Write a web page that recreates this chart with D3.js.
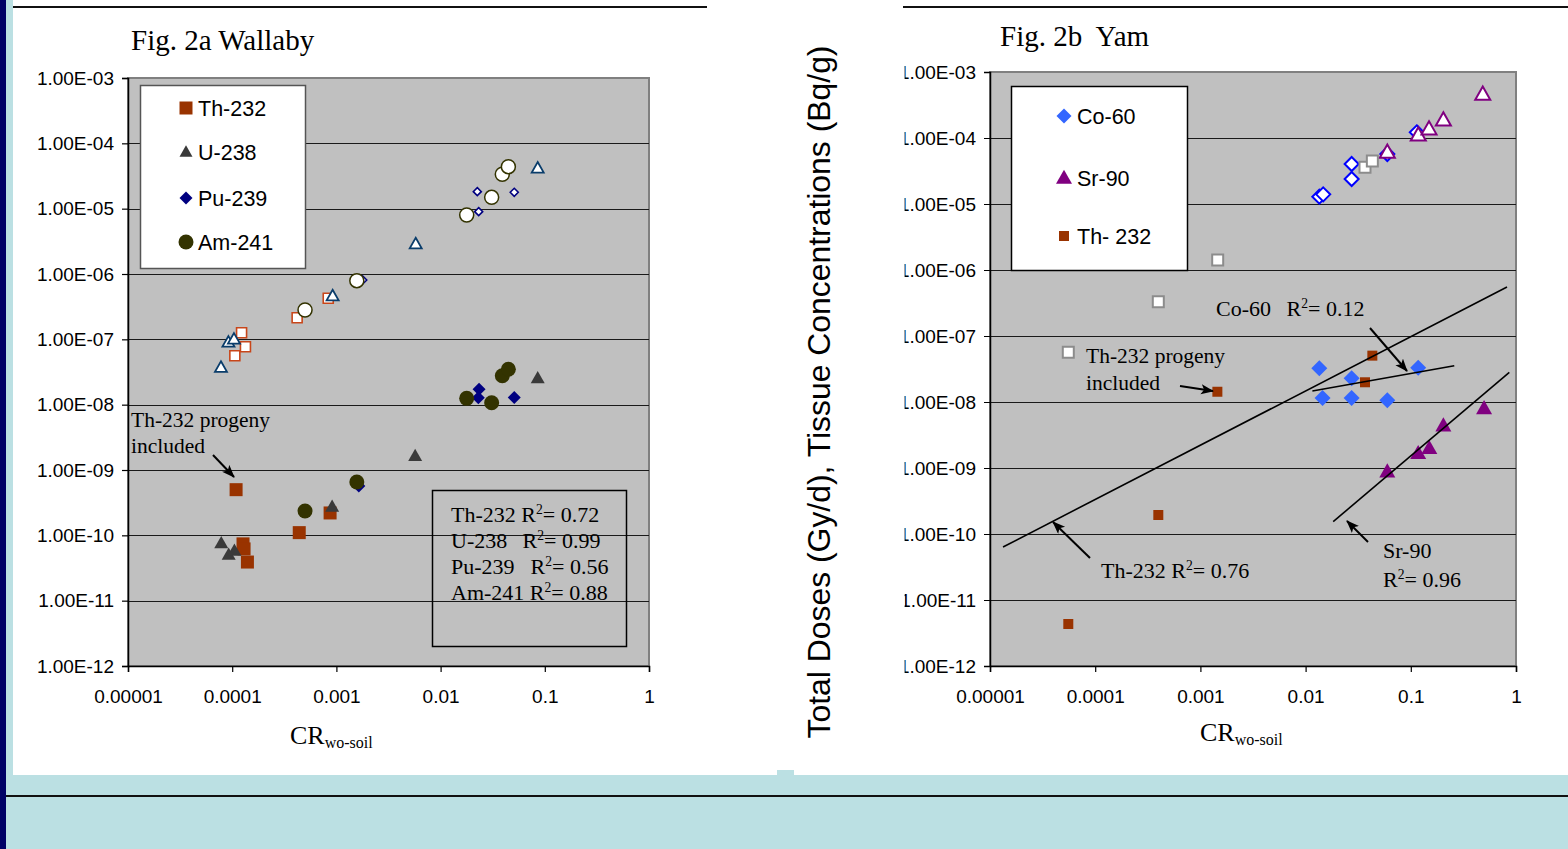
<!DOCTYPE html>
<html>
<head>
<meta charset="utf-8">
<script src="https://cdn.jsdelivr.net/npm/d3@7"></script>
<style>
  html, body { margin: 0; padding: 0; background: #bbe0e3; overflow: hidden; }
  svg { display: block; }
  .sans { font-family: "Liberation Sans", Arial, sans-serif; }
  .serif { font-family: "Liberation Serif", "Times New Roman", serif; }
</style>
</head>
<body>
<script>
// ---- axis ticks ----
var xTicks = [1e-5, 1e-4, 1e-3, 1e-2, 1e-1, 1];
var xTickLabels = ["0.00001", "0.0001", "0.001", "0.01", "0.1", "1"];
var yTicks = [1e-12, 1e-11, 1e-10, 1e-9, 1e-8, 1e-7, 1e-6, 1e-5, 1e-4, 1e-3];
var yTickLabels = ["1.00E-12", "1.00E-11", "1.00E-10", "1.00E-09", "1.00E-08",
                   "1.00E-07", "1.00E-06", "1.00E-05", "1.00E-04", "1.00E-03"];

// ---- Fig 2a wallaby: [CR, value] ----
var wallabyNames = ["Th-232", "U-238", "Pu-239", "Am-241"];
var wallabyTh232Tissue = [[1.23e-4, 1.26e-7], [1.34e-4, 7.7e-8], [1.06e-4, 5.6e-8], [4.2e-4, 2.14e-7], [8.35e-4, 4.25e-7]];
var wallabyU238Tissue = [[7.8e-5, 3.7e-8], [9.2e-5, 9.0e-8], [1.04e-4, 1.0e-7], [9.2e-4, 4.6e-7], [5.77e-3, 2.88e-6], [8.55e-2, 4.15e-5]];
var wallabyPu239Tissue = [[1.79e-3, 8.1e-7], [2.25e-2, 1.82e-5], [2.32e-2, 9.0e-6], [5.09e-2, 1.78e-5]];
var wallabyAm241Tissue = [[5.0e-4, 2.81e-7], [1.57e-3, 7.9e-7], [1.78e-2, 8.0e-6], [3.09e-2, 1.49e-5], [3.91e-2, 3.36e-5], [4.47e-2, 4.39e-5]];
var wallabyTh232Dose = [[1.09e-4, 5.0e-10], [1.27e-4, 7.4e-11], [1.30e-4, 6.2e-11], [1.40e-4, 3.9e-11], [4.4e-4, 1.1e-10], [8.7e-4, 2.2e-10]];
var wallabyU238Dose = [[7.85e-5, 7.55e-11], [9.25e-5, 5.05e-11], [1.05e-4, 5.8e-11], [9.1e-4, 2.74e-10], [5.7e-3, 1.64e-9], [8.55e-2, 2.53e-8]];
var wallabyPu239Dose = [[1.64e-3, 5.7e-10], [2.34e-2, 1.72e-8], [2.30e-2, 1.28e-8], [5.09e-2, 1.29e-8]];
var wallabyAm241Dose = [[5.0e-4, 2.36e-10], [1.57e-3, 6.55e-10], [1.78e-2, 1.25e-8], [3.09e-2, 1.07e-8], [3.91e-2, 2.77e-8], [4.47e-2, 3.48e-8]];
var wallabyR2Names = ["Th-232", "U-238", "Pu-239", "Am-241"];
var wallabyR2Values = ["0.72", "0.99", "0.56", "0.88"];

// ---- Fig 2b yam ----
var yamNames = ["Co-60", "Sr-90", "Th- 232"];
var yamCo60Tissue = [[1.35e-2, 1.29e-5], [1.47e-2, 1.40e-5], [2.74e-2, 2.39e-5], [2.74e-2, 4.04e-5], [5.98e-2, 5.73e-5], [1.14e-1, 1.22e-4]];
var yamSr90Tissue = [[5.98e-2, 6.07e-5], [1.178e-1, 1.11e-4], [1.49e-1, 1.37e-4], [2.04e-1, 1.87e-4], [4.83e-1, 4.59e-4]];
var yamTh232Tissue = [[5.55e-5, 5.66e-8], [3.98e-4, 3.31e-7], [1.46e-3, 1.42e-6], [3.67e-2, 3.6e-5], [4.31e-2, 4.49e-5]];
var yamCo60Dose = [[1.35e-2, 3.25e-8], [1.45e-2, 1.15e-8], [2.74e-2, 2.29e-8], [2.74e-2, 1.15e-8], [5.98e-2, 1.06e-8], [1.175e-1, 3.31e-8]];
var yamSr90Dose = [[5.98e-2, 8.8e-10], [1.175e-1, 1.67e-9], [1.50e-1, 1.99e-9], [2.04e-1, 4.38e-9], [4.97e-1, 8.0e-9]];
var yamTh232Dose = [[5.55e-5, 4.33e-12], [3.98e-4, 1.94e-10], [1.45e-3, 1.43e-8], [3.67e-2, 1.99e-8], [4.31e-2, 5.04e-8]];
// trend lines: [start, end] in data units
var yamTh232Trend = [[1.33e-5, 6.35e-11], [0.821, 5.52e-7]];
var yamCo60Trend = [[1.16e-2, 1.47e-8], [0.259, 3.55e-8]];
var yamSr90Trend = [[1.83e-2, 1.54e-10], [0.864, 2.82e-8]];

var W = 1568, H = 849;
var svg = d3.select("body").append("svg").attr("width", W).attr("height", H);

// ---- slide background ----
svg.append("rect").attr("x", 13).attr("y", 0).attr("width", W - 13).attr("height", 775).attr("fill", "#fff");
svg.append("rect").attr("x", 777).attr("y", 770).attr("width", 17).attr("height", 5).attr("fill", "#bbe0e3");
svg.append("rect").attr("x", 0).attr("y", 0).attr("width", 6).attr("height", H).attr("fill", "#000066");
svg.append("line").attr("x1", 13).attr("x2", 707).attr("y1", 7).attr("y2", 7).attr("stroke", "#111").attr("stroke-width", 2);
svg.append("line").attr("x1", 903).attr("x2", W).attr("y1", 7).attr("y2", 7).attr("stroke", "#111").attr("stroke-width", 2);
svg.append("line").attr("x1", 6).attr("x2", W).attr("y1", 796).attr("y2", 796).attr("stroke", "#111").attr("stroke-width", 2);

var defs = svg.append("defs");
defs.append("marker").attr("id", "arrow")
    .attr("markerUnits", "userSpaceOnUse")
    .attr("markerWidth", 14).attr("markerHeight", 12)
    .attr("refX", 12).attr("refY", 5)
    .attr("orient", "auto")
  .append("path").attr("d", "M0,0L13,5L0,10L3,5z").attr("fill", "#000");
// clip in the right y axis' own (translated) space: cuts the labels near x=905
defs.append("clipPath").attr("id", "rightClip")
  .append("rect").attr("x", 904.6 - 990).attr("y", 0).attr("width", 200).attr("height", H);

function markerPath(shape, s) {
  var h = s / 2;
  if (shape === "square") return "M" + (-h) + "," + (-h) + "h" + s + "v" + s + "h" + (-s) + "z";
  if (shape === "diamond") return "M0," + (-h) + "L" + h + ",0L0," + h + "L" + (-h) + ",0z";
  if (shape === "triangle") return "M0," + (-s * 0.52) + "L" + h + "," + (s * 0.36) + "L" + (-h) + "," + (s * 0.36) + "z";
  return d3.symbol(d3.symbolCircle, Math.PI * h * h)();
}

function chart(left, right, top, bottom, clip) {
  var x = d3.scaleLog().domain([1e-5, 1]).range([left, right]);
  var y = d3.scaleLog().domain([1e-12, 1e-3]).range([bottom, top]);
  var g = svg.append("g");

  g.append("rect")
      .attr("x", left).attr("y", top)
      .attr("width", right - left).attr("height", bottom - top)
      .attr("fill", "#c0c0c0").attr("stroke", "#808080").attr("stroke-width", 2);

  g.selectAll(null).data(yTicks.slice(1, -1)).join("line")
      .attr("x1", left).attr("x2", right)
      .attr("y1", function (d) { return Math.round(y(d)) + 0.5; })
      .attr("y2", function (d) { return Math.round(y(d)) + 0.5; })
      .attr("stroke", "#1a1a1a").attr("stroke-width", 1.2);

  var ya = g.append("g")
      .attr("transform", "translate(" + left + ",0)")
      .call(d3.axisLeft(y).tickValues(yTicks).tickSizeOuter(0).tickSize(6).tickPadding(8)
        .tickFormat(function (d, i) { return yTickLabels[i]; }));
  if (clip) ya.attr("clip-path", "url(#rightClip)");

  var xa = g.append("g")
      .attr("transform", "translate(0," + bottom + ")")
      .call(d3.axisBottom(x).tickValues(xTicks).tickSizeOuter(0).tickSize(6)
        .tickFormat(function (d, i) { return xTickLabels[i]; }));
  xa.selectAll("text").attr("y", 37).attr("dy", 0);

  [ya, xa].forEach(function (a) {
    a.attr("font-family", "Liberation Sans, Arial, sans-serif").attr("font-size", 19);
    a.selectAll("text").attr("fill", "#000");
    a.selectAll("line").attr("stroke", "#000").attr("stroke-width", 1.2);
    a.select(".domain").attr("stroke", "#000").attr("stroke-width", 1.5);
  });
  return { x: x, y: y, g: g };
}

function drawSeries(c, s) {
  c.g.append("g").selectAll("path").data(s.data).join("path")
      .attr("d", markerPath(s.shape, s.size))
      .attr("transform", function (d) { return "translate(" + c.x(d[0]) + "," + c.y(d[1]) + ")"; })
      .attr("fill", s.fill)
      .attr("stroke", s.stroke || "none")
      .attr("stroke-width", s.sw || 0);
}

function label(x, y, parts, size) {
  var t = svg.append("text").attr("class", "serif").attr("x", x).attr("y", y)
      .attr("font-size", size).attr("fill", "#000").style("white-space", "pre");
  parts.forEach(function (p) {
    var ts = t.append("tspan").text(p.t);
    if (p.x != null) ts.attr("x", p.x);
    if (p.sup) ts.attr("font-size", size * 0.62).attr("dy", -size * 0.38);
    if (p.after) ts.attr("dy", size * 0.38);
  });
  return t;
}

function arrow(x1, y1, x2, y2) {
  svg.append("line").attr("x1", x1).attr("y1", y1).attr("x2", x2).attr("y2", y2)
      .attr("stroke", "#000").attr("stroke-width", 2).attr("marker-end", "url(#arrow)");
}

function rsq(x, y, name, rx, val, size) {
  label(x, y, [{ t: name }, { t: name ? " R" : "R", x: rx }, { t: "2", sup: true }, { t: "= " + val, after: true }], size);
}

// ================= Fig 2a =================
var a = chart(128, 649, 78, 666, false);
var wallabySeries = [
  { data: wallabyTh232Tissue, shape: "square", size: 10, fill: "#fff", stroke: "#c8461a", sw: 1.6 },
  { data: wallabyU238Tissue, shape: "triangle", size: 12, fill: "#fff", stroke: "#0a3d6b", sw: 1.8 },
  { data: wallabyPu239Tissue, shape: "diamond", size: 8, fill: "#fff", stroke: "#000080", sw: 1.6 },
  { data: wallabyAm241Tissue, shape: "circle", size: 14, fill: "#fff", stroke: "#333300", sw: 1.5 },
  { data: wallabyTh232Dose, shape: "square", size: 13, fill: "#993300" },
  { data: wallabyU238Dose, shape: "triangle", size: 14, fill: "#3a3a3a" },
  { data: wallabyPu239Dose, shape: "diamond", size: 13, fill: "#000080" },
  { data: wallabyAm241Dose, shape: "circle", size: 15, fill: "#333300" }
];
wallabySeries.forEach(function (s) { drawSeries(a, s); });

// legend
svg.append("rect").attr("x", 140.5).attr("y", 85.5).attr("width", 165).attr("height", 183)
    .attr("fill", "#fff").attr("stroke", "#555").attr("stroke-width", 1.5);
var legA = svg.append("g").selectAll("g").data(wallabyNames).join("g")
    .attr("transform", function (d, i) { return "translate(186," + [108, 152, 198, 242][i] + ")"; });
legA.append("path")
    .attr("d", function (d, i) { return markerPath(["square", "triangle", "diamond", "circle"][i], [13, 13, 13, 15][i]); })
    .attr("fill", function (d, i) { return ["#993300", "#3a3a3a", "#000080", "#333300"][i]; });
legA.append("text").attr("class", "sans").attr("x", 12).attr("y", 8)
    .attr("font-size", 21.5).attr("fill", "#000").text(function (d) { return d; });

// R2 box
svg.append("rect").attr("x", 432.5).attr("y", 490.5).attr("width", 194).attr("height", 156)
    .attr("fill", "none").attr("stroke", "#000").attr("stroke-width", 1.5);
wallabyR2Names.forEach(function (n, i) {
  rsq(451, 522 + i * 26, n, [null, 517, 525, null][i], wallabyR2Values[i], 22);
});

label(131, 427, [{ t: "Th-232 progeny" }], 21.5);
label(131, 453, [{ t: "included" }], 21.5);
arrow(213, 455, 234, 477);

svg.append("text").attr("class", "serif").attr("x", 131).attr("y", 50)
    .attr("font-size", 29).attr("fill", "#000").text("Fig. 2a Wallaby");
label(290, 744, [{ t: "CR" }, { t: "wo-soil" }], 26).select("tspan:nth-child(2)")
    .attr("font-size", 16).attr("dy", 4);

// ================= Fig 2b =================
var b = chart(990, 1516, 72, 666, true);
var yamSeries = [
  { data: yamCo60Tissue, shape: "diamond", size: 14, fill: "#fff", stroke: "#0000ff", sw: 2 },
  { data: yamSr90Tissue, shape: "triangle", size: 15, fill: "#fff", stroke: "#800080", sw: 2 },
  { data: yamTh232Tissue, shape: "square", size: 11, fill: "#fff", stroke: "#8c8c8c", sw: 2 },
  { data: yamCo60Dose, shape: "diamond", size: 16, fill: "#3366ff" },
  { data: yamSr90Dose, shape: "triangle", size: 16, fill: "#800080" },
  { data: yamTh232Dose, shape: "square", size: 10, fill: "#993300" }
];
yamSeries.forEach(function (s) { drawSeries(b, s); });

[yamTh232Trend, yamCo60Trend, yamSr90Trend].forEach(function (t) {
  b.g.append("line")
      .attr("x1", b.x(t[0][0])).attr("y1", b.y(t[0][1]))
      .attr("x2", b.x(t[1][0])).attr("y2", b.y(t[1][1]))
      .attr("stroke", "#000").attr("stroke-width", 1.6);
});

svg.append("rect").attr("x", 1011.5).attr("y", 86.5).attr("width", 176).attr("height", 184)
    .attr("fill", "#fff").attr("stroke", "#000").attr("stroke-width", 1.5);
var legB = svg.append("g").selectAll("g").data(yamNames).join("g")
    .attr("transform", function (d, i) { return "translate(1064," + [116, 178, 236][i] + ")"; });
legB.append("path")
    .attr("d", function (d, i) { return markerPath(["diamond", "triangle", "square"][i], [15, 16, 10][i]); })
    .attr("fill", function (d, i) { return ["#3366ff", "#800080", "#993300"][i]; });
legB.append("text").attr("class", "sans").attr("x", 13).attr("y", 8)
    .attr("font-size", 21.5).attr("fill", "#000").text(function (d) { return d; });

rsq(1216, 316, "Co-60", 1281, "0.12", 22);
arrow(1370, 328, 1407, 371);
label(1086, 363, [{ t: "Th-232 progeny" }], 21.5);
label(1086, 390, [{ t: "included" }], 21.5);
arrow(1180, 386, 1213, 391);
rsq(1101, 578, "Th-232", null, "0.76", 22);
arrow(1090, 558, 1053, 522);
label(1383, 558, [{ t: "Sr-90" }], 22);
rsq(1383, 587, "", 1383, "0.96", 22);
arrow(1368, 542, 1347, 521);

svg.append("text").attr("class", "serif").attr("x", 1000).attr("y", 46)
    .attr("font-size", 29).attr("fill", "#000").style("white-space", "pre").text("Fig. 2b  Yam");
label(1200, 741, [{ t: "CR" }, { t: "wo-soil" }], 26).select("tspan:nth-child(2)")
    .attr("font-size", 16).attr("dy", 4);

// shared y title
svg.append("text").attr("class", "sans")
    .attr("transform", "translate(830,392) rotate(-90)")
    .attr("text-anchor", "middle").attr("font-size", 31).attr("fill", "#000")
    .attr("textLength", 693).attr("lengthAdjust", "spacingAndGlyphs")
    .text("Total Doses (Gy/d), Tissue Concentrations (Bq/g)");
</script>
</body>
</html>
